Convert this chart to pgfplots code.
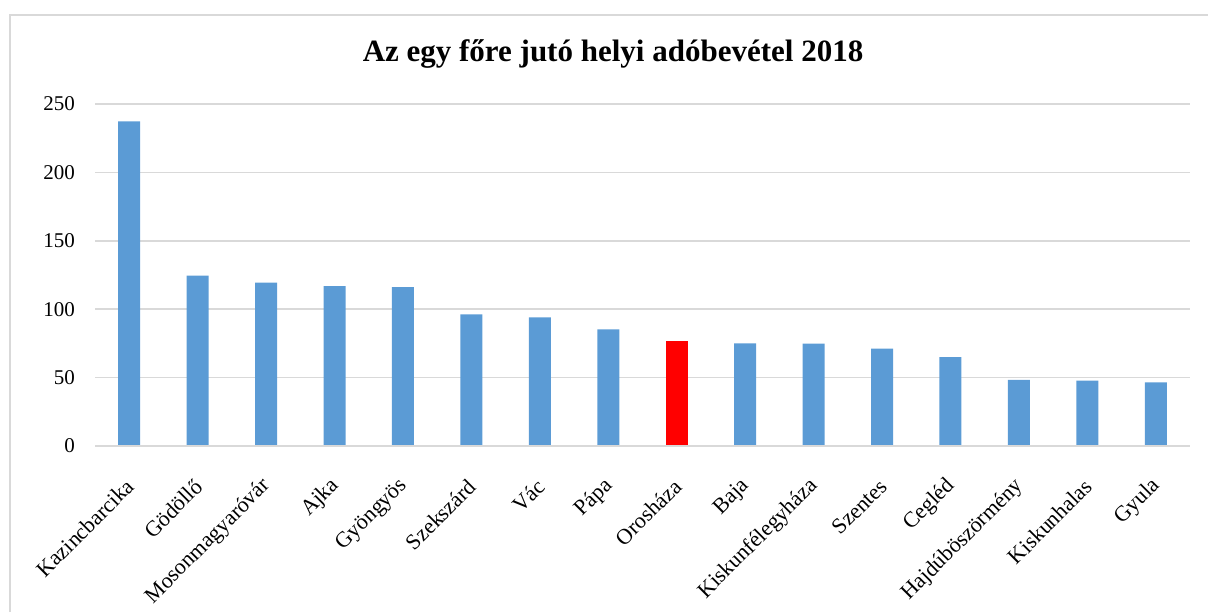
\documentclass[border=0pt]{standalone}
\usepackage{fontspec}
\setmainfont{Liberation Serif}
\usepackage{pgfplots}
\pgfplotsset{compat=1.18}
\definecolor{barblue}{HTML}{5B9BD5}
\definecolor{gridgray}{HTML}{D9D9D9}
\begin{document}
\begin{tikzpicture}[x=0.5pt,y=0.5pt]
\useasboundingbox (0,0) rectangle (1208,612);
\draw[gridgray, line width=0.8pt] (10,0) -- (10,597) -- (1208,597);
\node[font=\fontsize{15.5}{18}\selectfont\bfseries] at (613,558) {Az egy főre jutó helyi adóbevétel 2018};
\begin{axis}[
  at={(47.5pt,83pt)}, anchor=south west,
  scale only axis, width=547.5pt, height=171pt,
  xmin=-0.5, xmax=15.5, ymin=0, ymax=250,
  ytick={0,50,...,250},
  xtick={0,...,15},
  xticklabels={Kazincbarcika,Gödöllő,Mosonmagyaróvár,Ajka,Gyöngyös,Szekszárd,Vác,Pápa,Orosháza,Baja,Kiskunfélegyháza,Szentes,Cegléd,Hajdúböszörmény,Kiskunhalas,Gyula},
  /pgf/number format/assume math mode=true,
  ymajorgrids, grid style={gridgray, line width=0.75pt},
  axis line style={draw=none},
  axis x line*=bottom, axis y line*=left,
  major tick length=0pt,
  yticklabel style={xshift=-6.5pt, font=\fontsize{10.5}{12}\selectfont},
  xticklabel style={xshift=3pt, yshift=-16pt, rotate=45, anchor=east, font=\fontsize{11}{13}\selectfont},
  ybar=0pt, bar width=11pt, bar shift=0pt,
]
\addplot[fill=barblue, draw=none] coordinates {
 (0,237.3) (1,124.5) (2,119.4) (3,116.8) (4,116.2) (5,96.3) (6,94.0) (7,85.3)
 (9,75.0) (10,74.8) (11,71.1) (12,64.9) (13,48.3) (14,47.8) (15,46.6)};
\addplot[fill=red, draw=none] coordinates {(8,76.5)};
\draw[gridgray, line width=0.75pt] (axis cs:-0.5,0) -- (axis cs:15.5,0);
\end{axis}
\end{tikzpicture}
\end{document}
